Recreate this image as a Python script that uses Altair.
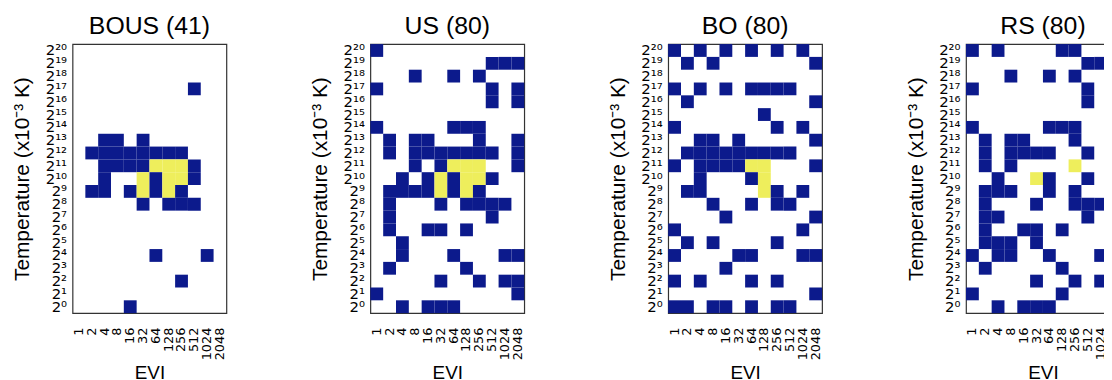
import altair as alt
import pandas as pd

titles = ["BOUS (41)", "US (80)", "BO (80)", "RS (80)"]
evi_labels = ["1", "2", "4", "8", "16", "32", "64", "128", "256", "512", "1024", "2048"]
temp_exponents = list(range(20, -1, -1))  # top row first

SUP = str.maketrans("0123456789", "⁰¹²³⁴⁵⁶⁷⁸⁹")
temp_labels = ["2" + str(e).translate(SUP) for e in temp_exponents]

# grid rows from 2^20 (top) to 2^0 (bottom); columns EVI 1..2048
# N = navy cell, Y = yellow cell, . = empty
grid_bous = [
    "............", "............", "............", ".........N..",
    "............", "............", "............", "..NN.N......",
    ".NNNNNNNN...", "..NNNNYYYN..", "..N..YNYYN..", ".NN.NYNYN...",
    ".....N.NNN..", "............", "............", "............",
    "......N...N.", "............", "........N...", "............",
    "....N.......",
]
grid_us = [
    "N...........", ".........NNN", "...N..N.N...", "N........N.N",
    ".........N.N", "............", "N.....NNN...", ".N.NN...N..N",
    ".N.NNNNNNN.N", "...N.NYYY..N", "..N.NYNYYN..", ".NNNNYNYN...",
    ".N...N.NNNN.", ".N.......N..", ".N..NN.N....", "..N.........",
    "..N...N...NN", ".N.....N....", ".....N..N.NN", "N..........N",
    "..N.NNN.....",
]
grid_bo = [
    "N.N.N.N.N.N.", ".N.N.......N", "............", "N.N.N.NNNN..",
    ".N.........N", ".......N....", "N.......N.N.", "..NN.N.....N",
    ".NNNNNNNNN..", "N.NNNNYY...N", "..N...NY....", ".NN....YN.N.",
    "...N..N.NN..", "....N......N", "N.........N.", ".N.N....N...",
    "N....NN...NN", "....N.......", "N.N...N.N...", "...........N",
    "NN.NN.N.NN..",
]
grid_rs = [
    "N.N....NN...", ".........NNN", "...N..N.N...", "N........N.N",
    ".........N.N", "............", "N.....NNN...", ".N.NN...N..N",
    ".N.NNNN..N.N", ".N.N....Y..N", "..N..YN..N..", ".NNN..N.N...",
    ".N...N..NNN.", ".NN......N..", ".N..NN.N...N", ".NNN.N......",
    "N.NN..N...NN", ".N.....N....", ".....N..N.NN", "N......N...N",
    "..N.NNN.....",
]
grids = [grid_bous, grid_us, grid_bo, grid_rs]

NAVY = "#0c1a8c"
YELLOW = "#eeee5c"
FRAME = "#333333"

records = []
for p, grid in enumerate(grids):
    for r, row in enumerate(grid):
        for c, ch in enumerate(row):
            if ch != ".":
                records.append({"panel": p, "evi": evi_labels[c],
                                "temp": temp_labels[r], "state": ch})
df = pd.DataFrame(records)

PLOT_W = 155
PLOT_H = 271


def panel(p):
    return alt.Chart(df[df.panel == p]).mark_rect().encode(
        x=alt.X("evi:O",
                scale=alt.Scale(domain=evi_labels, paddingInner=0, paddingOuter=0),
                axis=alt.Axis(title="EVI", labelAngle=270, labelFontSize=13,
                              labelFont="DejaVu Sans", labelPadding=14, ticks=False,
                              domain=False, titleFont="Liberation Sans", titleFontSize=19,
                              titleFontWeight="normal", titlePadding=4, titleColor="#000",
                              labelColor="#000")),
        y=alt.Y("temp:O", scale=alt.Scale(domain=temp_labels, paddingInner=0, paddingOuter=0),
                axis=alt.Axis(title="Temperature (x10⁻³ K)", labelFontSize=15,
                              labelFont="DejaVu Sans", labelPadding=6, ticks=False,
                              domain=False, titleFont="Liberation Sans", titleFontSize=21,
                              titleFontWeight="normal", titlePadding=9, titleColor="#000",
                              labelColor="#000", minExtent=31, maxExtent=31)),
        color=alt.Color("state:N", scale=alt.Scale(domain=["N", "Y"], range=[NAVY, YELLOW]),
                        legend=None),
    ).properties(
        width=PLOT_W, height=PLOT_H,
        title=alt.TitleParams(titles[p], fontSize=25, font="Liberation Sans",
                              fontWeight="normal", color="#000", offset=4, frame="group"),
    )


# The reference is cut by the window edge (right panel and bottom title);
# a fixed-size canvas (1104 x 372) reproduces that crop.
chart = alt.hconcat(*[panel(p) for p in range(4)], spacing=82).properties(
    autosize=alt.AutoSizeParams(type="none"),
    padding={"left": 65, "top": 34, "right": 1039, "bottom": 338},
).configure_view(stroke=FRAME, strokeWidth=1.2)

chart.save("out.html", embed_options={"renderer": "svg", "actions": False})
